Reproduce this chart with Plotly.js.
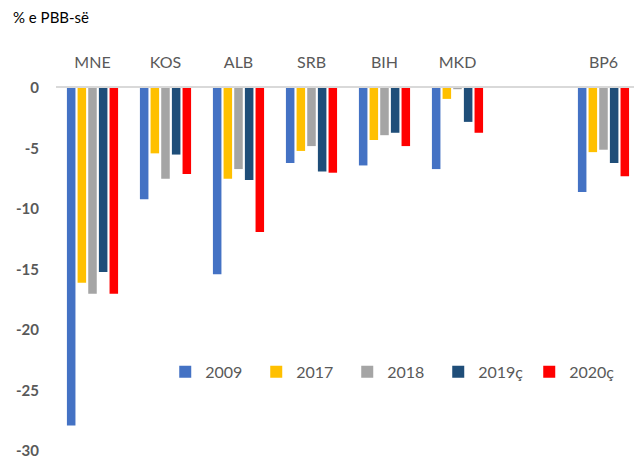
<!DOCTYPE html>
<html>
<head>
<meta charset="utf-8">
<script src="https://cdn.plot.ly/plotly-3.0.1.min.js"></script>
<style>html,body{margin:0;padding:0;background:#fff;}#chart{width:634px;height:460px;}</style>
</head>
<body>
<div id="chart"></div>
<script>
var categories = ['MNE', 'KOS', 'ALB', 'SRB', 'BIH', 'MKD', ' ', 'BP6'];
var seriesNames = ['2009', '2017', '2018', '2019ç', '2020ç'];
var v2009  = [-27.9, -9.2, -15.4, -6.2, -6.4, -6.7, null, -8.6];
var v2017  = [-16.1, -5.4, -7.5, -5.2, -4.3, -0.9, null, -5.3];
var v2018  = [-17.0, -7.5, -6.7, -4.8, -3.9, -0.1, null, -5.1];
var v2019  = [-15.2, -5.5, -7.6, -6.9, -3.7, -2.8, null, -6.2];
var v2020  = [-17.0, -7.1, -11.9, -7.0, -4.8, -3.7, null, -7.3];
var yTicks = [0, -5, -10, -15, -20, -25, -30];
var colors = ['#4472C4', '#FFC000', '#A5A5A5', '#1F4E79', '#FF0000'];
var allValues = [v2009, v2017, v2018, v2019, v2020];

var traces = allValues.map(function (vals, i) {
  return {
    type: 'bar',
    name: seriesNames[i],
    x: categories,
    y: vals,
    marker: {color: colors[i]},
    hoverinfo: 'x+y+name'
  };
});

var font = 'Lato, "Open Sans", sans-serif';
var layout = {
  width: 634,
  height: 460,
  margin: {l: 56, r: 0, t: 88, b: 8},
  paper_bgcolor: '#ffffff',
  plot_bgcolor: '#ffffff',
  barmode: 'group',
  bargap: 0.27,
  bargroupgap: 0.2,
  showlegend: true,
  font: {family: font, color: '#595959', size: 15},
  xaxis: {
    type: 'category',
    side: 'top',
    range: [-0.5, 7.418],
    showline: true,
    linecolor: '#D9D9D9',
    linewidth: 2,
    showgrid: false,
    ticks: '',
    ticklabelstandoff: 12,
    tickfont: {family: font, size: 16, color: '#595959'},
    fixedrange: true
  },
  yaxis: {
    range: [-30.08, 0],
    tickvals: yTicks,
    ticktext: yTicks.map(String),
    showgrid: false,
    zeroline: false,
    showline: false,
    ticks: '',
    ticklabelstandoff: 16,
    tickfont: {family: font, size: 15, color: '#595959', weight: 'bold'},
    fixedrange: true
  },
  legend: {
    orientation: 'h',
    x: 0.189,
    xanchor: 'left',
    y: 0.22,
    yanchor: 'middle',
    itemwidth: 30,
    entrywidth: 46,
    entrywidthmode: 'pixels',
    bgcolor: 'rgba(0,0,0,0)',
    font: {family: font, size: 16, color: '#595959'}
  },
  annotations: [{
    text: '% e PBB-së',
    xref: 'paper', yref: 'paper',
    x: -0.078, y: 1.0,
    xanchor: 'left', yanchor: 'bottom',
    yshift: 60,
    showarrow: false,
    font: {family: font, size: 15, color: '#000000'}
  }]
};

Plotly.newPlot('chart', traces, layout, {displayModeBar: false, staticPlot: true});
</script>
</body>
</html>
